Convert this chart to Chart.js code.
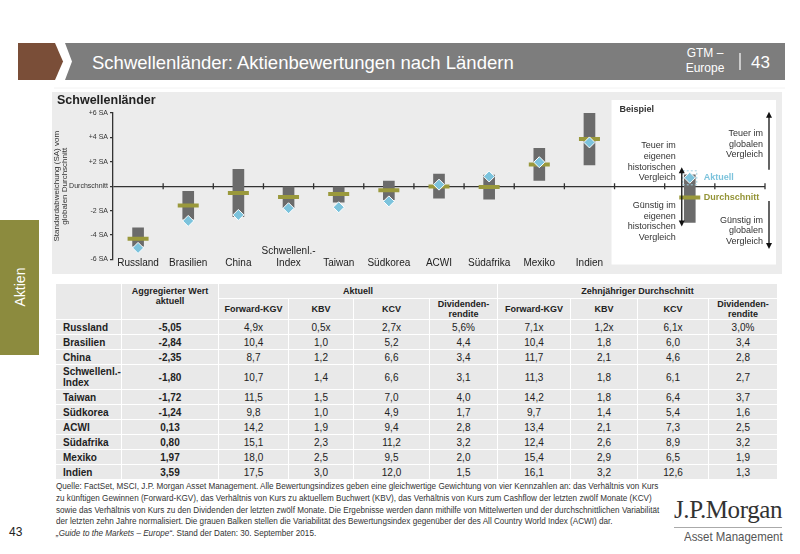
<!DOCTYPE html>
<html>
<head>
<meta charset="utf-8">
<script src="https://cdn.jsdelivr.net/npm/chart.js@4"></script>
<style>
  body { margin: 0; width: 800px; height: 554px; background: #fff; position: relative; overflow: hidden;
         font-family: "Liberation Sans", Arial, sans-serif; color: #222; }
  .abs { position: absolute; }
  #panel { left: 52px; top: 92px; width: 730px; height: 182px; background: #ececec; }
  #panelTitle { left: 57px; top: 93px; font-weight: bold; font-size: 12.5px; color: #222; }
  table { position: absolute; left: 55px; top: 283px; border-collapse: collapse; table-layout: fixed; font-size: 10px; }
  td { background: #e9e9e9; border: 1.5px solid #fff; text-align: center; padding: 0; height: 12px; line-height: 11px; }
  td.lbl { text-align: left; font-weight: bold; padding-left: 7px; }
  td.agg { font-weight: bold; }
  tr.h td { font-weight: bold; font-size: 9px; line-height: 10px; }
  #foot { left: 56px; top: 481px; font-size: 8.15px; line-height: 11.8px; color: #333; white-space: nowrap; }
</style>
</head>
<body>
<svg class="abs" style="left:0;top:0" width="800" height="90">
  <polygon points="18,43 55,43 63,61.5 55,80 18,80" fill="#7a4e38"/>
  <polygon points="65,43 785,43 785,80 65,80 72,61.5" fill="#7d7d7d"/>
  <line x1="54" y1="88" x2="785" y2="88" stroke="#f2f2f2" stroke-width="1"/>
  <text x="92" y="69" fill="#fff" font-size="18.5" font-family="Liberation Sans, Arial">Schwellenländer: Aktienbewertungen nach Ländern</text>
  <text x="705" y="57" fill="#fff" font-size="12" text-anchor="middle" font-family="Liberation Sans, Arial">GTM –</text>
  <text x="705" y="72" fill="#fff" font-size="12" text-anchor="middle" font-family="Liberation Sans, Arial">Europe</text>
  <line x1="740" y1="53" x2="740" y2="70" stroke="#fff" stroke-width="1.2"/>
  <text x="751" y="68" fill="#fff" font-size="17" font-family="Liberation Sans, Arial">43</text>
</svg>

<div class="abs" style="left:0;top:220px;width:39px;height:135px;background:#8c8b3e;"></div>
<div class="abs" style="left:-48px;top:279px;width:135px;text-align:center;color:#fff;font-size:14px;transform:rotate(-90deg);">Aktien</div>

<div id="panel" class="abs"><canvas id="myChart"></canvas></div>
<div id="panelTitle" class="abs">Schwellenländer</div>

<table id="tbl"></table>

<div id="foot" class="abs">
Quelle: FactSet, MSCI, J.P. Morgan Asset Management. Alle Bewertungsindizes geben eine gleichwertige Gewichtung von vier Kennzahlen an: das Verhältnis von Kurs<br>
zu künftigen Gewinnen (Forward-KGV), das Verhältnis von Kurs zu aktuellem Buchwert (KBV), das Verhältnis von Kurs zum Cashflow der letzten zwölf Monate (KCV)<br>
sowie das Verhältnis von Kurs zu den Dividenden der letzten zwölf Monate. Die Ergebnisse werden dann mithilfe von Mittelwerten und der durchschnittlichen Variabilität<br>
der letzten zehn Jahre normalisiert. Die grauen Balken stellen die Variabilität des Bewertungsindex gegenüber der des All Country World Index (ACWI) dar.<br>
<i>„Guide to the Markets – Europe“</i>. Stand der Daten: 30. September 2015.
</div>
<div class="abs" style="left:9px;top:525px;font-size:12px;color:#222;">43</div>
<div class="abs" style="left:674px;top:496px;font-family:'Liberation Serif',serif;font-size:25px;color:#333;letter-spacing:-0.4px;">J.P.Morgan</div>
<div class="abs" style="left:674px;top:527px;width:108px;border-top:1px solid #aaa;"></div>
<div class="abs" style="left:684px;top:529px;font-size:13px;color:#555;transform:scaleX(0.88);transform-origin:left;">Asset Management</div>

<script>
// chart data (SA = Standardabweichung)
const categories = ['Russland', 'Brasilien', 'China', ['Schwellenl.-', 'Index'], 'Taiwan', 'Südkorea', 'ACWI', 'Südafrika', 'Mexiko', 'Indien'];
const rangeLow  = [-4.9, -2.7, -2.5, -1.75, -1.3, -1.1, -0.97, -1.06, 0.47, 1.75];
const rangeHigh = [-3.4, -0.42, 1.38, 0, 0, 0.42, 1.0, 0.92, 3.1, 5.97];
const tenYearAvg = [-4.3, -1.58, -0.56, -0.89, -0.64, -0.33, -0.03, -0.06, 1.78, 3.88];
const currentValue = [-5.05, -2.84, -2.35, -1.80, -1.72, -1.24, 0.13, 0.80, 1.97, 3.59];

// "Beispiel" legend example, sits at the second slot after Indien
const exampleRange = [-2.97, 0.94];
const exampleAvg = -0.92;
const exampleCurrent = 0.69;

const yTicks = [-6, -4, -2, 0, 2, 4, 6];

// table data
const rowNames = ['Russland', 'Brasilien', 'China', 'Schwellenl.-<br>Index', 'Taiwan', 'Südkorea', 'ACWI', 'Südafrika', 'Mexiko', 'Indien'];
const fwdKgv = [4.9, 10.4, 8.7, 10.7, 11.5, 9.8, 14.2, 15.1, 18.0, 17.5];
const kbv = [0.5, 1.0, 1.2, 1.4, 1.5, 1.0, 1.9, 2.3, 2.5, 3.0];
const kcv = [2.7, 5.2, 6.6, 6.6, 7.0, 4.9, 9.4, 11.2, 9.5, 12.0];
const divYield = [5.6, 4.4, 3.4, 3.1, 4.0, 1.7, 2.8, 3.2, 2.0, 1.5];
const avgFwdKgv = [7.1, 10.4, 11.7, 11.3, 14.2, 9.7, 13.4, 12.4, 15.4, 16.1];
const avgKbv = [1.2, 1.8, 2.1, 1.8, 1.8, 1.4, 2.1, 2.6, 2.9, 3.2];
const avgKcv = [6.1, 6.0, 4.6, 6.1, 6.4, 5.4, 7.3, 8.9, 6.5, 12.6];
const avgDiv = [3.0, 3.4, 2.8, 2.7, 3.7, 1.6, 2.5, 3.2, 1.9, 1.3];

const fmt = (v, d) => v.toFixed(d).replace('.', ',');

// build table
let html = '<colgroup>' + [66, 97, 70, 65, 76, 68, 73, 67, 71, 69].map(w => `<col style="width:${w}px">`).join('') + '</colgroup>';
html += '<tr class="h" style="height:15px"><td rowspan="2" style="vertical-align:top"></td>' +
  '<td rowspan="2" style="vertical-align:top;padding-top:2px">Aggregierter Wert<br>aktuell</td>' +
  '<td colspan="4">Aktuell</td><td colspan="4">Zehnjähriger Durchschnitt</td></tr>';
html += '<tr class="h" style="height:21px">' +
  ['Forward-KGV', 'KBV', 'KCV', 'Dividenden-<br>rendite', 'Forward-KGV', 'KBV', 'KCV', 'Dividenden-<br>rendite'].map(t => `<td>${t}</td>`).join('') + '</tr>';
rowNames.forEach((name, i) => {
  const x = i === 0 ? 'x' : '', p = i === 0 ? '%' : '';
  const h = i === 3 ? 25 : 15;
  html += `<tr style="height:${h}px"><td class="lbl">${name}</td><td class="agg">${fmt(currentValue[i], 2)}</td>` +
    `<td>${fmt(fwdKgv[i], 1)}${x}</td><td>${fmt(kbv[i], 1)}${x}</td><td>${fmt(kcv[i], 1)}${x}</td><td>${fmt(divYield[i], 1)}${p}</td>` +
    `<td>${fmt(avgFwdKgv[i], 1)}${x}</td><td>${fmt(avgKbv[i], 1)}${x}</td><td>${fmt(avgKcv[i], 1)}${x}</td><td>${fmt(avgDiv[i], 1)}${p}</td></tr>`;
});
document.getElementById('tbl').innerHTML = html;

// labels incl. three empty slots for the example box
const labels = categories.concat(['', '', '']);
const barData = rangeLow.map((lo, i) => [lo, rangeHigh[i]]).concat([null, exampleRange, null]);
const avgData = tenYearAvg.concat([null, exampleAvg, null]);
const curData = currentValue.concat([null, exampleCurrent, null]);
const exIdx = categories.length + 1;

function arrow(ctx, x, y1, y2) {
  const dir = y2 < y1 ? -1 : 1;
  ctx.beginPath(); ctx.moveTo(x, y1); ctx.lineTo(x, y2 - dir * 5); ctx.stroke();
  ctx.beginPath(); ctx.moveTo(x, y2); ctx.lineTo(x - 3, y2 - dir * 6); ctx.lineTo(x + 3, y2 - dir * 6); ctx.closePath(); ctx.fill();
}

const extras = {
  id: 'extras',
  beforeDraw(chart) {
    const { ctx, scales: { x, y }, chartArea } = chart;
    const left = (x.getPixelForValue(9) + x.getPixelForValue(10)) / 2 - 3;
    const right = chartArea.right + 11;
    const top = y.getPixelForValue(6) - 13;
    const bottom = y.getPixelForValue(-6) + 5;
    ctx.save();
    ctx.fillStyle = '#fff';
    ctx.fillRect(left, top, right - left, bottom - top);
    ctx.restore();
  },
  beforeDatasetsDraw(chart) {
    const { ctx, scales: { x, y }, chartArea } = chart;
    const y0 = y.getPixelForValue(0);
    ctx.save();
    ctx.strokeStyle = '#333';
    ctx.lineWidth = 1.3;
    for (let i = 0; i < labels.length; i++) {
      const bx = i < labels.length - 1 ? (x.getPixelForValue(i) + x.getPixelForValue(i + 1)) / 2 : chartArea.right;
      ctx.beginPath(); ctx.moveTo(bx, y0 - 3); ctx.lineTo(bx, y0 + 3); ctx.stroke();
    }
    // category labels, bottom-aligned (multi-line ones grow upwards)
    ctx.fillStyle = '#222';
    ctx.font = '10px "Liberation Sans", Arial';
    ctx.textAlign = 'center';
    ctx.textBaseline = 'middle';
    categories.forEach((lbl, i) => {
      const lines = Array.isArray(lbl) ? lbl : [lbl];
      lines.forEach((t, j) => ctx.fillText(t, x.getPixelForValue(i), chartArea.bottom + 4 - (lines.length - 1 - j) * 12.5));
    });
    ctx.restore();
  },
  afterDatasetsDraw(chart) {
    const { ctx, scales: { x, y }, chartArea } = chart;
    const cx = x.getPixelForValue(exIdx);
    const yc = y.getPixelForValue(exampleCurrent);
    ctx.save();
    // dashed frame round the example diamond
    ctx.strokeStyle = '#9fcfe0'; ctx.lineWidth = 1; ctx.setLineDash([2, 2]);
    ctx.strokeRect(cx - 7, yc - 7, 14, 14);
    ctx.setLineDash([]);
    ctx.fillStyle = '#333';
    ctx.textBaseline = 'middle';
    const boxLeft = (x.getPixelForValue(9) + x.getPixelForValue(10)) / 2 - 3;
    ctx.font = 'bold 9px "Liberation Sans", Arial';
    ctx.fillText('Beispiel', boxLeft + 8, y.getPixelForValue(6) - 3);
    ctx.font = '9px "Liberation Sans", Arial';
    ctx.textAlign = 'right';
    const lh = 10.6;
    const leftX = cx - 14;
    ['Teuer im', 'eigenen', 'historischen', 'Vergleich'].forEach((t, i) => ctx.fillText(t, leftX, y.getPixelForValue(0.7) - (3 - i) * lh));
    ['Günstig im', 'eigenen', 'historischen', 'Vergleich'].forEach((t, i) => ctx.fillText(t, leftX, y.getPixelForValue(-1.6) + i * lh));
    const rightX = chartArea.right - 2;
    ['Teuer im', 'globalen', 'Vergleich'].forEach((t, i) => ctx.fillText(t, rightX, y.getPixelForValue(4.3) + i * lh));
    ['Günstig im', 'globalen', 'Vergleich'].forEach((t, i) => ctx.fillText(t, rightX, y.getPixelForValue(-2.78) + i * lh));
    ctx.textAlign = 'left';
    ctx.font = 'bold 9px "Liberation Sans", Arial';
    ctx.fillStyle = '#7cc3dc';
    ctx.fillText('Aktuell', cx + 14, yc);
    ctx.fillStyle = '#949437';
    ctx.fillText('Durchschnitt', cx + 14, y.getPixelForValue(exampleAvg));
    // arrows
    ctx.strokeStyle = '#111'; ctx.fillStyle = '#111'; ctx.lineWidth = 1.3;
    const ax = cx - 8;
    arrow(ctx, ax, y.getPixelForValue(0), y.getPixelForValue(1.55));
    arrow(ctx, ax, y.getPixelForValue(0), y.getPixelForValue(-3.3));
    const rx = chartArea.right + 4;
    arrow(ctx, rx, y.getPixelForValue(1.35), y.getPixelForValue(6.1));
    arrow(ctx, rx, y.getPixelForValue(-1.2), y.getPixelForValue(-5.15));
    ctx.restore();
  }
};

const ctx = document.getElementById('myChart').getContext('2d');
new Chart(ctx, {
  data: {
    labels: labels,
    datasets: [
      { type: 'bar', data: barData, backgroundColor: '#6b6b6b', barThickness: 11, order: 3 },
      { type: 'line', data: avgData, showLine: false, pointStyle: 'line', pointRadius: 10.5, pointHoverRadius: 10.5,
        pointBorderWidth: 4, borderColor: '#9a993c', backgroundColor: '#9a993c', order: 2 },
      { type: 'line', data: curData, showLine: false, pointStyle: 'rectRot', pointRadius: 5.5, pointHoverRadius: 5.5,
        pointBorderWidth: 1, borderColor: '#ffffff', backgroundColor: '#7cc3dc', order: 1 }
    ]
  },
  options: {
    responsive: true,
    maintainAspectRatio: false,
    animation: false,
    layout: { padding: { top: 21, right: 17, left: 0, bottom: 0 } },
    plugins: { legend: { display: false }, tooltip: { enabled: false } },
    scales: {
      x: {
        grid: { display: false },
        border: { display: false },
        ticks: { display: false },
        afterFit: s => { s.height = 14; }
      },
      y: {
        min: -6, max: 6,
        afterBuildTicks: s => { s.ticks = yTicks.map(v => ({ value: v })); },
        afterFit: s => { s.width = 61; },
        border: { display: true, color: '#333', width: 1.3 },
        grid: {
          color: c => c.tick.value === 0 ? '#333' : 'transparent',
          lineWidth: 1.3,
          tickColor: '#333', tickLength: 3
        },
        ticks: {
          color: '#333', padding: 2, font: { size: 7, family: '"Liberation Sans", Arial' },
          callback: v => v === 0 ? 'Durchschnitt' : (v > 0 ? '+' : '') + v + ' SA'
        },
        title: {
          display: true, text: ['Standardabweichung (SA) vom', 'globalen Durchschnitt'],
          color: '#333', font: { size: 8, family: '"Liberation Sans", Arial', lineHeight: 1.1 }, padding: 0
        }
      }
    }
  },
  plugins: [extras]
});
</script>
</body>
</html>
